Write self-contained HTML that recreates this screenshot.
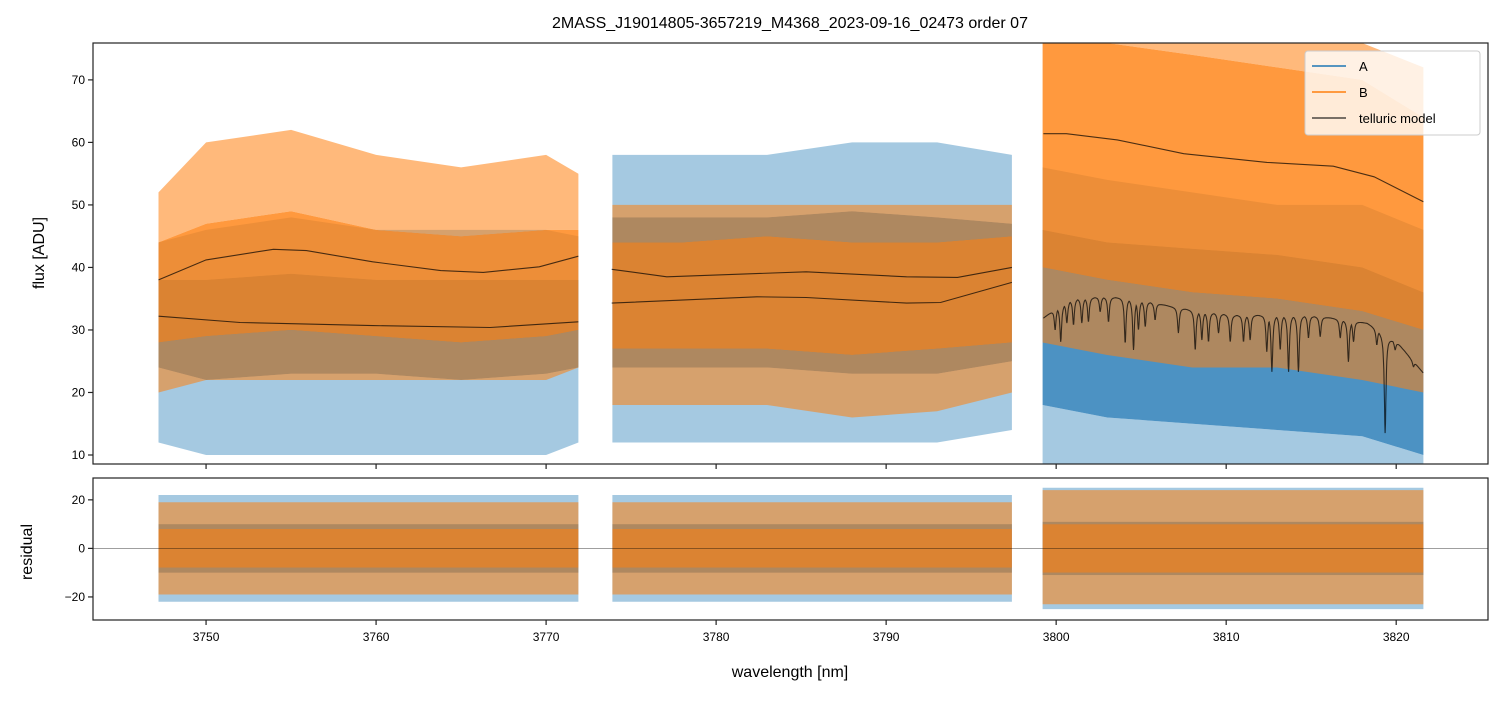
<!DOCTYPE html>
<html><head><meta charset="utf-8"><style>
html,body{margin:0;padding:0;background:#fff}
svg text{font-family:"Liberation Sans","DejaVu Sans",sans-serif;fill:#000}
</style></head><body>
<svg id="chart" width="1502" height="696" xmlns="http://www.w3.org/2000/svg">
<text x="790" y="28" font-size="16" text-anchor="middle">2MASS_J19014805-3657219_M4368_2023-09-16_02473  order 07</text>
<g id="top"></g>
<g id="bot"></g>
<text x="790" y="677" font-size="16" text-anchor="middle">wavelength [nm]</text>
<text x="0" y="0" font-size="16" text-anchor="middle" transform="translate(44,253) rotate(-90)">flux [ADU]</text>
<text x="0" y="0" font-size="16" text-anchor="middle" transform="translate(32,552) rotate(-90)">residual</text>
</svg>
<script>
// ---- data ----
const xTicks=[3750,3760,3770,3780,3790,3800,3810,3820];
const fluxTicks=[10,20,30,40,50,60,70];
const residTicks=[-20,0,20];
const segStart=[3747.2,3773.9,3799.2];
const segEnd=[3771.9,3797.4,3821.6];
const knots1=[3747.2,3750,3755,3760,3765,3770,3771.9];
const knots2=[3773.9,3778,3783,3788,3793,3797.4];
const knots3=[3799.2,3803,3808,3813,3818,3821.6];
const A1=[[12,10,10,10,10,10,12],[24,22,23,23,22,23,24],[38,38,39,38,38,38,38],[44,46,48,46,46,46,45]];
const B1=[[20,22,22,22,22,22,24],[28,29,30,29,28,29,30],[44,47,49,46,45,46,46],[52,60,62,58,56,58,55]];
const A2=[[12,12,12,12,12,14],[24,24,24,23,23,25],[48,48,48,49,48,47],[58,58,58,60,60,58]];
const B2=[[18,18,18,16,17,20],[27,27,27,26,27,28],[44,44,45,44,44,45],[50,50,50,50,50,50]];
const A3=[[5,5,5,5,5,5],[18,16,15,14,13,10],[46,44,43,42,40,36],[56,54,52,50,50,46]];
const B3=[[28,26,24,24,22,20],[40,38,36,35,33,30],[80,78,74,72,70,64],[80,80,80,80,78,72]];
const residA=[[-22,-10,10,22],[-22,-10,10,22],[-25,-11,11,25]];
const residB=[[-19,-8,8,19],[-19,-8,8,19],[-23,-10,10,24]];
const mB1x=[3747.2,3750.0,3753.96,3755.9,3759.8,3763.8,3766.3,3769.6,3771.9];
const mB1y=[38,41.2,42.9,42.7,40.9,39.5,39.2,40.1,41.8];
const mA1x=[3747.2,3752.0,3759.8,3766.7,3771.9];
const mA1y=[32.2,31.2,30.7,30.4,31.3];
const mB2x=[3773.86,3777.1,3785.3,3791.2,3794.2,3797.4];
const mB2y=[39.7,38.5,39.3,38.5,38.4,40.0];
const mA2x=[3773.86,3782.4,3785.3,3791.2,3793.2,3797.4];
const mA2y=[34.3,35.3,35.2,34.3,34.4,37.6];
const mB3x=[3799.25,3800.6,3803.6,3807.5,3812.4,3816.3,3818.7,3821.6];
const mB3y=[61.4,61.4,60.4,58.2,56.8,56.2,54.5,50.5];
const mA3x=[3799.25,3800,3801,3802.6,3804,3805.5,3806.9,3808.5,3810.4,3814.4,3816,3818.3,3819.5,3820.2,3821.6];
const mA3y=[31.9,33.5,35,35.3,35.2,34.5,33.7,33,32.4,32.4,32,31.1,29,27.6,23.1];
const dipX=[3799.94,3800.27,3800.63,3801.02,3801.51,3801.90,3802.59,3803.08,3804.06,3804.55,3804.84,3805.24,3805.82,3807.19,3808.18,3808.57,3808.96,3809.55,3810.24,3811.02,3811.41,3812.39,3812.69,3813.18,3813.67,3814.25,3814.84,3815.53,3816.71,3817.19,3817.49,3818.86,3819.35,3819.94,3821.02];
const dipY=[30.0,28.1,31.1,30.8,31.1,31.3,32.9,31.3,27.9,26.8,30.0,30.5,31.6,29.5,26.8,28.4,28.1,29.5,28.1,28.1,28.4,26.5,23.3,26.8,23.3,23.3,28.7,28.9,28.7,24.9,28.1,27.6,13.5,26.8,24.1];

// ---- axes ----
const X0=93,X1=1488,XMIN=3743.35,XMAX=3825.4;
const x=v=>X0+(v-XMIN)/(XMAX-XMIN)*(X1-X0);
const T0=43,T1=464,YMIN=8.56,YMAX=75.9;
const yT=v=>T1-(v-YMIN)/(YMAX-YMIN)*(T1-T0);
const R0=478,R1=620,RMIN=-29.5,RMAX=29;
const yR=v=>R1-(v-RMIN)/(RMAX-RMIN)*(R1-R0);
const NS='http://www.w3.org/2000/svg';
function mk(tag,attrs,parent){const e=document.createElementNS(NS,tag);for(const k in attrs)e.setAttribute(k,attrs[k]);parent.appendChild(e);return e;}
const gTop=document.getElementById('top'),gBot=document.getElementById('bot');
const cA='#1f77b4',cB='#ff7f0e';
const SPA=0.4,SPB=0.55;
function interp(xs,ys,v){if(v<=xs[0])return ys[0];for(let i=1;i<xs.length;i++)if(v<=xs[i]){const t=(v-xs[i-1])/(xs[i]-xs[i-1]);return ys[i-1]+t*(ys[i]-ys[i-1]);}return ys[ys.length-1];}
function clipT(v){return Math.max(YMIN,Math.min(YMAX,v));}
function band(parent,kx,lo,hi,col,op,yf,name){
  let d='';kx.forEach((k,i)=>{d+=(i?'L':'M')+x(k).toFixed(1)+','+yf(hi[i]).toFixed(1);});
  for(let i=kx.length-1;i>=0;i--)d+='L'+x(kx[i]).toFixed(1)+','+yf(lo[i]).toFixed(1);
  const p=mk('path',{d:d+'Z',fill:col,'fill-opacity':op},parent);
  
  
}
const yTc=v=>yT(clipT(v));
const segsK=[knots1,knots2,knots3],segsA=[A1,A2,A3],segsB=[B1,B2,B3];
const cp=mk('clipPath',{id:'cpT'},gTop);mk('rect',{x:X0,y:T0,width:X1-X0,height:T1-T0},cp);
const cpr=mk('clipPath',{id:'cpR'},gBot);mk('rect',{x:X0,y:R0,width:X1-X0,height:R1-R0},cpr);
const gT=mk('g',{'clip-path':'url(#cpT)'},gTop);
const gR=mk('g',{'clip-path':'url(#cpR)'},gBot);
for(let s=0;s<3;s++){
  const k=segsK[s],a=segsA[s],b=segsB[s];
  band(gT,k,a[0],a[1],cA,SPA,yTc,'series-a-spikes-low');
  band(gT,k,a[2],a[3],cA,SPA,yTc,'series-a-spikes-high');
  band(gT,k,a[1],a[2],cA,0.8,yTc,'series-a-core');
  band(gT,k,b[0],b[1],cB,SPB,yTc,'series-b-spikes-low');
  band(gT,k,b[2],b[3],cB,SPB,yTc,'series-b-spikes-high');
  band(gT,k,b[1],b[2],cB,0.8,yTc,'series-b-core');
  const kk=[segStart[s],segEnd[s]];
  const ra=residA[s],rb=residB[s];
  const rep=v=>[v,v];
  band(gR,kk,rep(ra[0]),rep(ra[1]),cA,SPA,yR,'resid-a-spikes-low');
  band(gR,kk,rep(ra[2]),rep(ra[3]),cA,SPA,yR,'resid-a-spikes-high');
  band(gR,kk,rep(ra[1]),rep(ra[2]),cA,0.8,yR,'resid-a-core');
  band(gR,kk,rep(rb[0]),rep(rb[1]),cB,SPB,yR,'resid-b-spikes-low');
  band(gR,kk,rep(rb[2]),rep(rb[3]),cB,SPB,yR,'resid-b-spikes-high');
  band(gR,kk,rep(rb[1]),rep(rb[2]),cB,0.8,yR,'resid-b-core');
}
function line(parent,xs,ys,name){
  let d='';xs.forEach((v,i)=>{d+=(i?'L':'M')+x(v).toFixed(1)+','+yT(ys[i]).toFixed(1);});
  const p=mk('path',{d:d,fill:'none',stroke:'#000','stroke-opacity':0.7,'stroke-width':1.1},parent);
  
  
}
line(gT,mB1x,mB1y,'telluric-b-seg1');line(gT,mA1x,mA1y,'telluric-a-seg1');
line(gT,mB2x,mB2y,'telluric-b-seg2');line(gT,mA2x,mA2y,'telluric-a-seg2');
line(gT,mB3x,mB3y,'telluric-b-seg3');
const dx=[],dy=[];
for(let v=mA3x[0];v<=mA3x[mA3x.length-1]+1e-9;v+=0.02){
  let b=interp(mA3x,mA3y,v),m=b;
  dipX.forEach((c,i)=>{const depth=b-dipY[i];if(depth>0){const t=(v-c)/0.06;const val=b-depth/(1+t*t);if(val<m)m=val;}});
  dx.push(v);dy.push(m);
}
line(gT,dx,dy,'telluric-a-seg3');
const zl=mk('line',{x1:X0,x2:X1,y1:yR(0),y2:yR(0),stroke:'#000','stroke-opacity':0.5,'stroke-width':0.8},gBot);


[[T0,T1,gTop],[R0,R1,gBot]].forEach(([a,b,g])=>{
  const r=mk('rect',{x:X0,y:a,width:X1-X0,height:b-a,fill:'none',stroke:'#222','stroke-width':1.2},g);
  
  
  xTicks.forEach(t=>{const l=mk('line',{x1:x(t),x2:x(t),y1:b,y2:b+5,stroke:'#222','stroke-width':1.2},g);
    
    });
});
xTicks.forEach(t=>{const e=mk('text',{x:x(t),y:R1+21,'font-size':12,'text-anchor':'middle'},gBot);e.textContent=t;
  
  });
fluxTicks.forEach(t=>{mk('line',{x1:X0-5,x2:X0,y1:yT(t),y2:yT(t),stroke:'#222','stroke-width':1.2},gTop);
  const e=mk('text',{x:X0-8,y:yT(t)+4,'font-size':12,'text-anchor':'end'},gTop);e.textContent=t;
  
  });
residTicks.forEach(t=>{mk('line',{x1:X0-5,x2:X0,y1:yR(t),y2:yR(t),stroke:'#222','stroke-width':1.2},gBot);
  const e=mk('text',{x:X0-8,y:yR(t)+4,'font-size':12,'text-anchor':'end'},gBot);e.textContent=t<0?'\u2212'+(-t):t;
  
  });
const lg=mk('g',{},gTop);


mk('rect',{x:1305,y:51,width:175,height:84,rx:3,fill:'#fff','fill-opacity':0.8,stroke:'#ccc'},lg);
[['A',cA,1],['B',cB,1],['telluric model','#000',0.7]].forEach((e,i)=>{
  const yy=66+i*26;
  mk('line',{x1:1312,x2:1346,y1:yy,y2:yy,stroke:e[1],'stroke-opacity':e[2],'stroke-width':1.5},lg);
  const t=mk('text',{x:1359,y:yy+5,'font-size':13},lg);t.textContent=e[0];
  
  
});
</script>
</body></html>
